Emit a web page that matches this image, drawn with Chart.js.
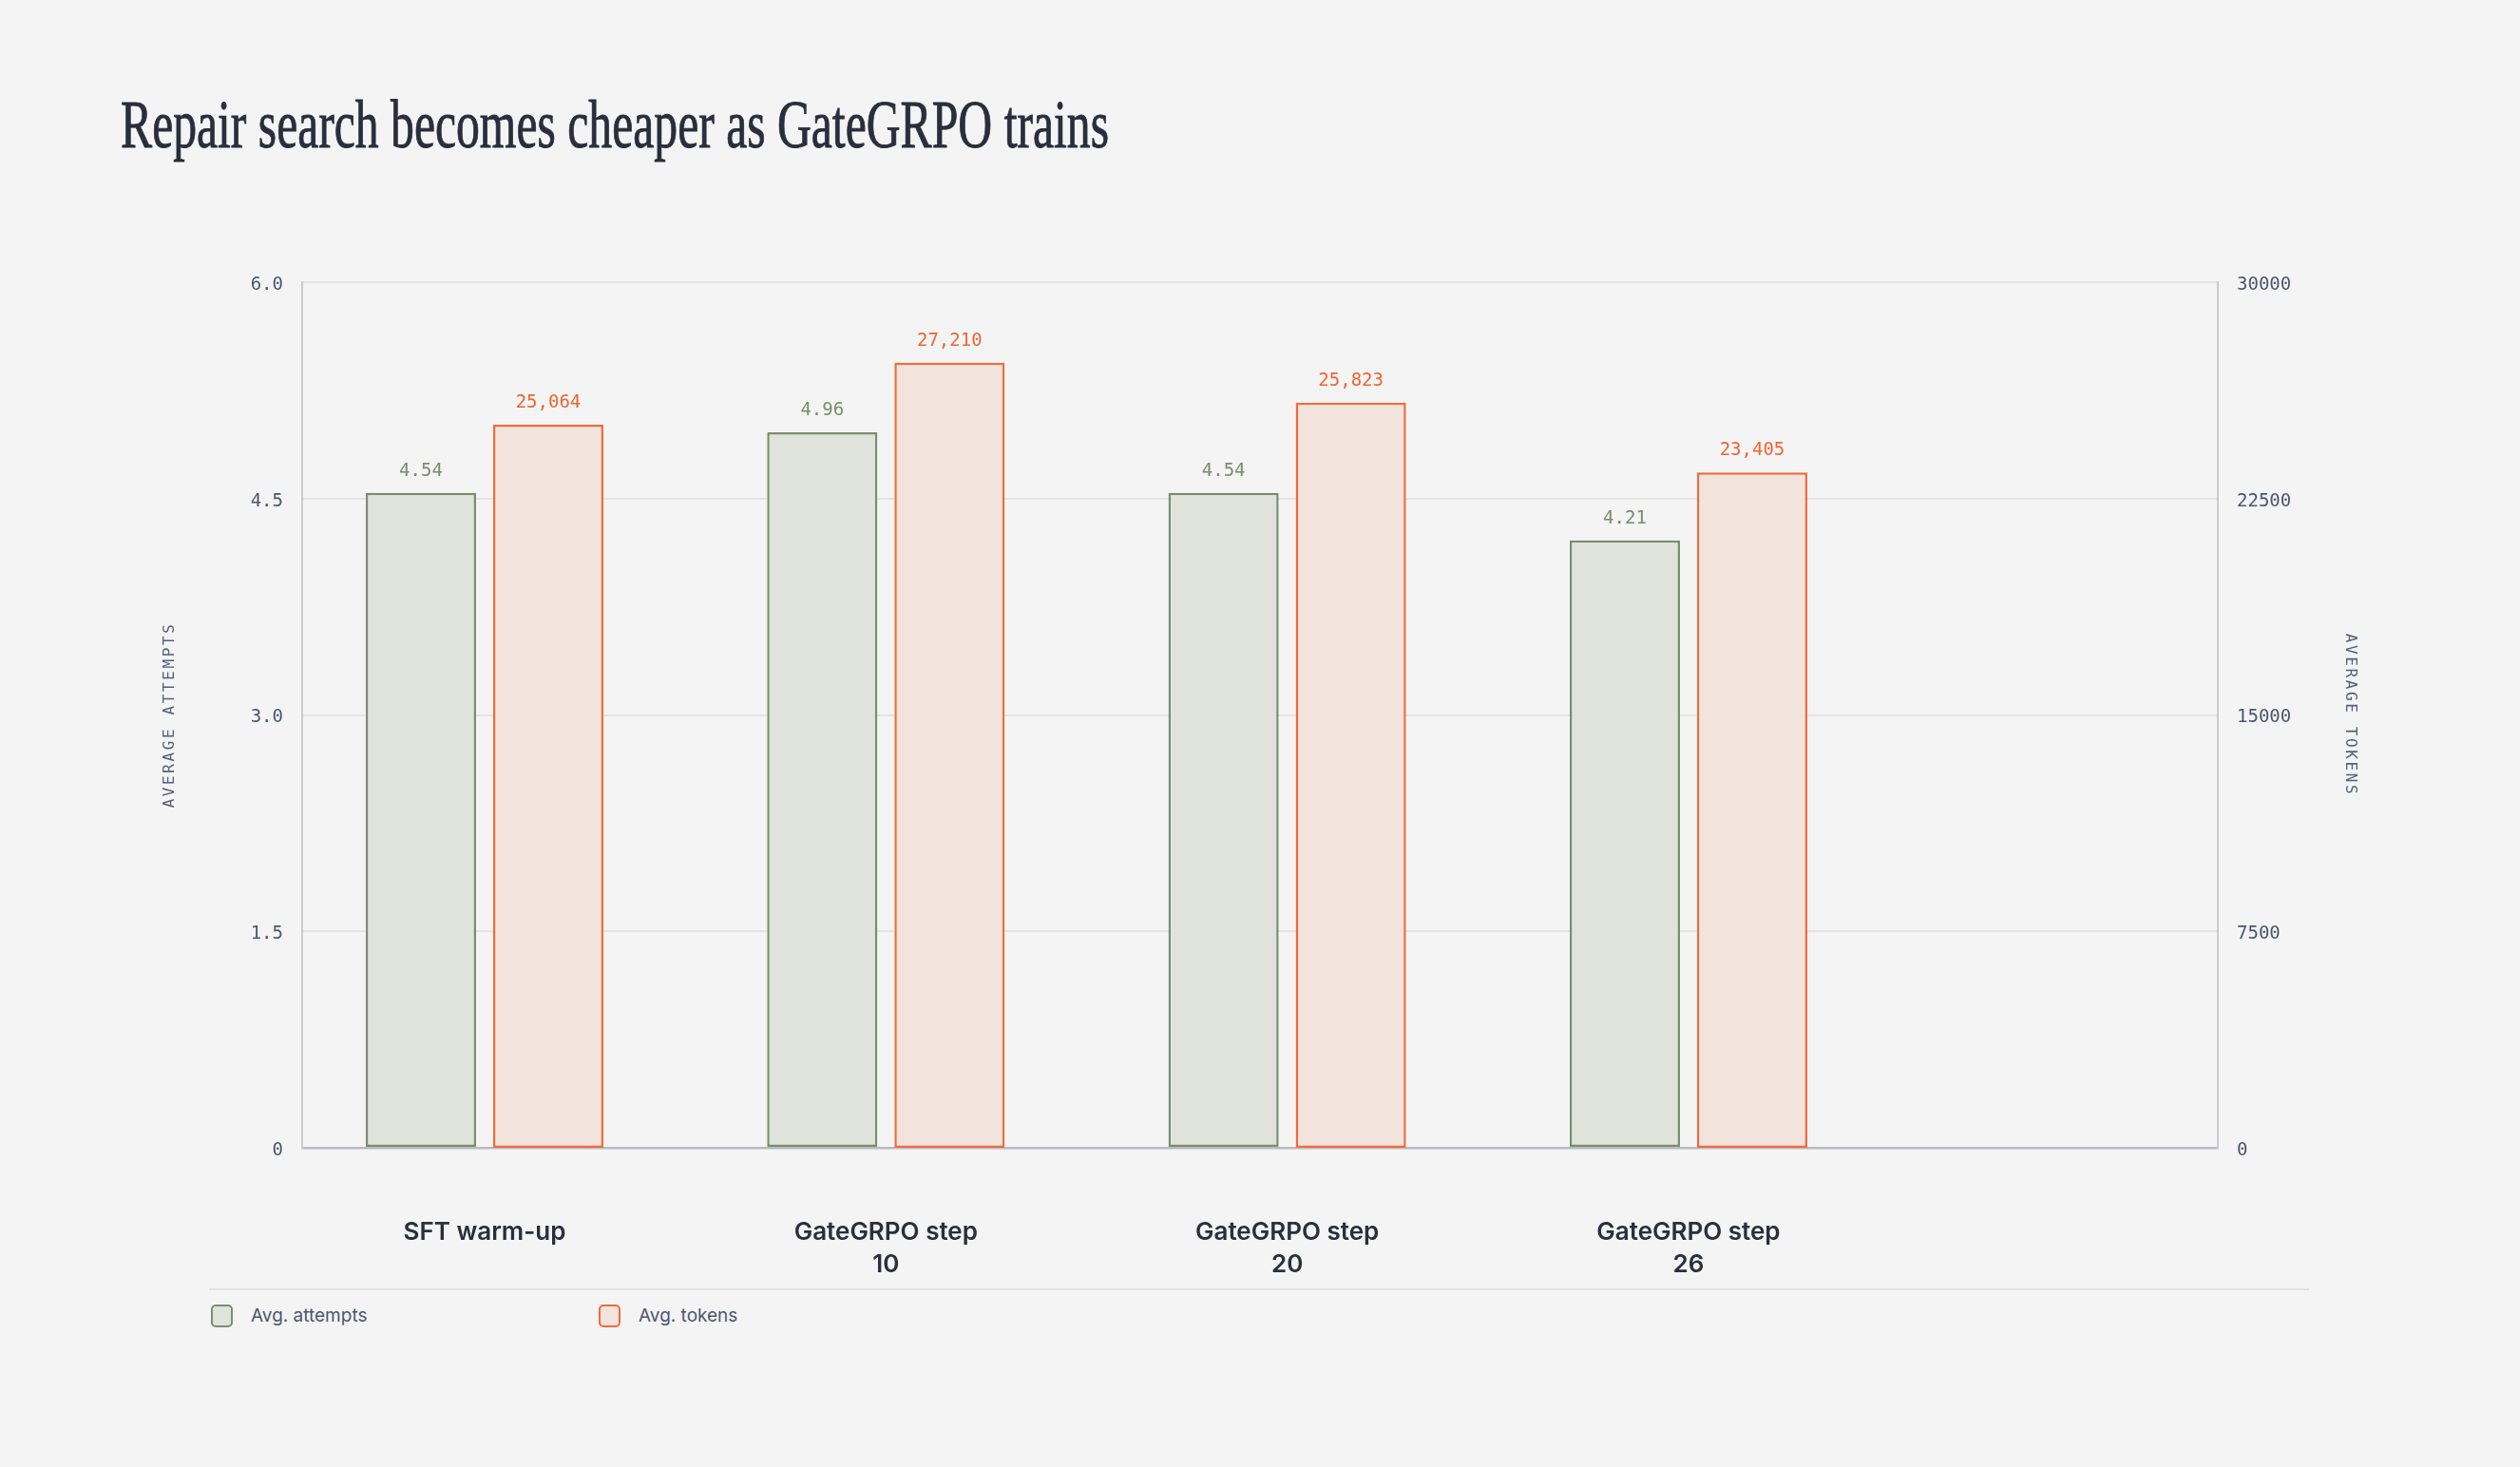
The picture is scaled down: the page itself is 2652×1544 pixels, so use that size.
<!DOCTYPE html>
<html>
<head>
<meta charset="utf-8">
<script src="https://cdn.jsdelivr.net/npm/chart.js@4.4.1/dist/chart.umd.min.js"></script>
<style>
  html, body { margin: 0; padding: 0; background: #f4f4f4; }
  body { width: 2652px; height: 1544px; position: relative; overflow: hidden; }
  #title {
    position: absolute; left: 127px; top: 96px;
    font-family: 'Liberation Serif', serif; font-size: 71px; line-height: 70px;
    color: #2a2d3d; white-space: nowrap; transform-origin: 0 0;
    -webkit-text-stroke: 0.9px #2a2d3d;
  }
  #chart { position: absolute; left: 0; top: 250px; }
  #rule { position: absolute; left: 220px; top: 1356px; width: 2210px; height: 2px; background: #e2e2e2; }
  .legend-item {
    position: absolute; top: 1372px; height: 25px; display: flex; align-items: center;
    font-family: Inter, sans-serif; font-size: 19px; color: #4b5670;
  }
  .swatch { width: 19px; height: 20px; border-radius: 5px; border: 2.5px solid; margin-right: 19px; }
</style>
</head>
<body>
<div id="title">Repair search becomes cheaper as GateGRPO trains</div>
<canvas id="chart" width="2652" height="1100"></canvas>
<div id="rule"></div>
<div id="legend"></div>

<script>
// chart data
var categories = ['SFT warm-up', 'GateGRPO step 10', 'GateGRPO step 20', 'GateGRPO step 26'];
var seriesNames = ['Avg. attempts', 'Avg. tokens'];
var attempts = [4.54, 4.96, 4.54, 4.21];
var tokens = [25064, 27210, 25823, 23405];
var attemptTicks = [0, 1.5, 3.0, 4.5, 6.0];
var tokenTicks = [0, 7500, 15000, 22500, 30000];
var axisTitles = ['AVERAGE ATTEMPTS', 'AVERAGE TOKENS'];

var greenLine = '#7a8e6c', greenFill = '#dfe3dc', greenText = '#7a8c69';
var orangeLine = '#f06c3c', orangeFill = '#f3e3dd', orangeText = '#ee6634';
var tickColor = '#4b5670';
var monoFont = '"DejaVu Sans Mono", monospace';

function wrapLabel(s) {
    if (s.length <= 14) return s;
    var cut = s.lastIndexOf(' ');
    return [s.slice(0, cut), s.slice(cut + 1)];
}

// value labels above every bar
var barValues = {
    id: 'barValues',
    afterDatasetsDraw: function (chart) {
        var ctx = chart.ctx;
        ctx.save();
        ctx.font = '19px ' + monoFont;
        ctx.textAlign = 'center';
        ctx.textBaseline = 'alphabetic';
        chart.data.datasets.forEach(function (ds, di) {
            var meta = chart.getDatasetMeta(di);
            meta.data.forEach(function (bar, i) {
                var v = ds.data[i].y;
                var txt = di === 0 ? v.toFixed(2) : v.toLocaleString('en-US');
                ctx.fillStyle = di === 0 ? greenText : orangeText;
                ctx.fillText(txt, bar.x, bar.y - 18);
            });
        });
        ctx.restore();
    }
};

// spaced-out vertical axis titles
var axisNames = {
    id: 'axisNames',
    afterDraw: function (chart) {
        var ctx = chart.ctx, area = chart.chartArea;
        var cy = (area.top + area.bottom) / 2;
        ctx.save();
        ctx.font = '16px ' + monoFont;
        ctx.fillStyle = '#56607a';
        ctx.letterSpacing = '2.6px';
        ctx.textAlign = 'center';
        ctx.textBaseline = 'middle';

        ctx.save();
        ctx.translate(chart.scales.y.left + 19, cy);
        ctx.rotate(-Math.PI / 2);
        ctx.fillText(axisTitles[0], 0, 0);
        ctx.restore();

        ctx.save();
        ctx.translate(chart.scales.y1.right - 19, cy);
        ctx.rotate(Math.PI / 2);
        ctx.fillText(axisTitles[1], 0, 0);
        ctx.restore();

        ctx.restore();
    }
};

var ctx = document.getElementById('chart').getContext('2d');
new Chart(ctx, {
    type: 'bar',
    data: {
        datasets: [
            {
                label: seriesNames[0],
                data: attempts.map(function (v, i) { return { x: i, y: v }; }),
                yAxisID: 'y',
                backgroundColor: greenFill,
                borderColor: greenLine,
                borderWidth: 2.5,
                borderSkipped: false,
                barPercentage: 0.866,
                categoryPercentage: 0.6346
            },
            {
                label: seriesNames[1],
                data: tokens.map(function (v, i) { return { x: i, y: v }; }),
                yAxisID: 'y1',
                backgroundColor: orangeFill,
                borderColor: orangeLine,
                borderWidth: 2.5,
                borderSkipped: false,
                barPercentage: 0.866,
                categoryPercentage: 0.6346
            }
        ]
    },
    options: {
        responsive: false,
        animation: false,
        layout: { padding: { left: 160, right: 160, top: 47, bottom: 0 } },
        plugins: {
            legend: { display: false },
            tooltip: { enabled: false }
        },
        scales: {
            x: {
                type: 'linear',
                offset: false,
                bounds: 'data',
                min: -0.4546,
                max: 4.319,
                grid: { display: false, offset: false },
                border: { display: true, color: '#b9bac2', width: 2.5 },
                afterBuildTicks: function (s) {
                    s.ticks = categories.map(function (c, i) { return { value: i }; });
                },
                afterFit: function (s) { s.height = 142; },
                ticks: {
                    autoSkip: false,
                    maxRotation: 0,
                    padding: 64,
                    color: '#2b2e3d',
                    font: { family: 'Inter', size: 26, weight: '600', lineHeight: 1.3 },
                    callback: function (v) { return wrapLabel(categories[v]); }
                }
            },
            y: {
                position: 'left',
                min: 0,
                max: 6,
                afterBuildTicks: function (s) {
                    s.ticks = attemptTicks.map(function (v) { return { value: v }; });
                },
                afterFit: function (s) { s.width = 158; },
                grid: { color: '#e4e4e4', lineWidth: 2, drawTicks: false },
                border: { display: true, color: '#c9c9ce', width: 2 },
                ticks: {
                    padding: 20,
                    labelOffset: 3,
                    color: tickColor,
                    font: { family: 'DejaVu Sans Mono', size: 19 },
                    callback: function (v) { return v === 0 ? '0' : v.toFixed(1); }
                }
            },
            y1: {
                position: 'right',
                min: 0,
                max: 30000,
                afterBuildTicks: function (s) {
                    s.ticks = tokenTicks.map(function (v) { return { value: v }; });
                },
                afterFit: function (s) { s.width = 158; },
                grid: { display: false, drawTicks: false },
                border: { display: true, color: '#c9c9ce', width: 2 },
                ticks: {
                    padding: 20,
                    labelOffset: 3,
                    color: tickColor,
                    font: { family: 'DejaVu Sans Mono', size: 19 },
                    callback: function (v) { return String(v); }
                }
            }
        }
    },
    plugins: [barValues, axisNames]
});

// html legend
var legend = document.getElementById('legend');
var legendX = [222, 630];
var legendColors = [[greenLine, greenFill], [orangeLine, orangeFill]];
seriesNames.forEach(function (name, i) {
    var item = document.createElement('div');
    item.className = 'legend-item';
    item.style.left = legendX[i] + 'px';
    var sw = document.createElement('span');
    sw.className = 'swatch';
    sw.style.borderColor = legendColors[i][0];
    sw.style.background = legendColors[i][1];
    item.appendChild(sw);
    item.appendChild(document.createTextNode(name));
    legend.appendChild(item);
});

// condensed serif title: squeeze to the reference width
function fitTitle() {
    var t = document.getElementById('title');
    t.style.transform = 'none';
    var w = t.getBoundingClientRect().width;
    t.style.transform = 'scaleX(' + (1040 / w) + ')';
}
fitTitle();
if (document.fonts) document.fonts.ready.then(fitTitle);
</script>
</body>
</html>
